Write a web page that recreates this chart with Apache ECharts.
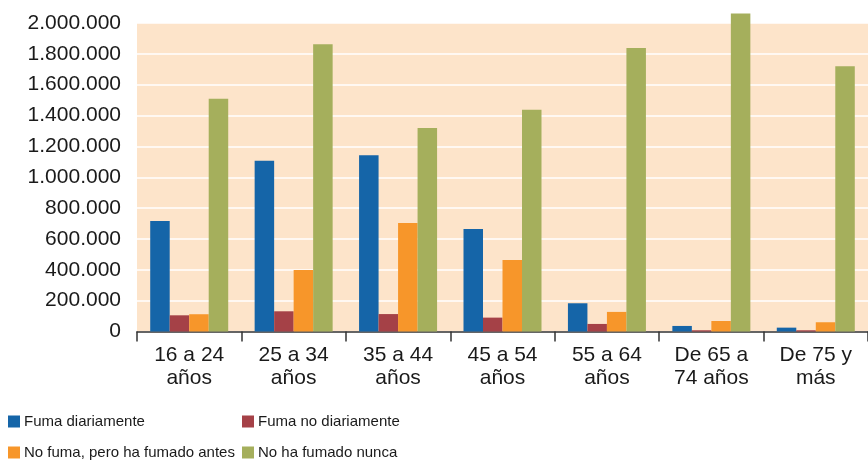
<!DOCTYPE html>
<html><head><meta charset="utf-8">
<script src="https://cdn.jsdelivr.net/npm/echarts@6/dist/echarts.min.js"></script>
<style>html,body{margin:0;padding:0;background:#fff}#c{width:868px;height:463px}</style>
</head><body><div id="c"></div>
<script>
const categories = ['16 a 24\naños','25 a 34\naños','35 a 44\naños','45 a 54\naños','55 a 64\naños','De 65 a\n74 años','De 75 y\nmás'];
const seriesNames = ['Fuma diariamente','Fuma no diariamente','No fuma, pero ha fumado antes','No ha fumado nunca'];
const fumaDiariamente = [717000, 1107000, 1142000, 665000, 183000, 36000, 25000];
const fumaNoDiariamente = [105000, 131000, 113000, 90000, 49000, 8000, 8000];
const exFumador = [112000, 399000, 704000, 464000, 127000, 68000, 60000];
const nuncaFumado = [1509000, 1862000, 1320000, 1437000, 1838000, 2062000, 1719000];
const yTicks = [0, 200000, 400000, 600000, 800000, 1000000, 1200000, 1400000, 1600000, 1800000, 2000000];
const colors = ['#1565a8','#a54147','#f7962a','#a5af5c'];

const chart = echarts.init(document.getElementById('c'));
const fmt = v => String(v).replace(/\B(?=(\d{3})+(?!\d))/g, '.');
const font = 'Liberation Sans, Arial, sans-serif';
const mk = (name, data, i) => ({
  name, type: 'bar', data, barWidth: 19.5, barGap: '0%', clip: false,
  itemStyle: { color: colors[i] }
});
const legendPos = [[8, 414], [242, 414], [8, 445], [242, 445]];
const legends = seriesNames.map((n, i) => ({
  left: legendPos[i][0], top: legendPos[i][1], padding: 0, itemGap: 0,
  itemWidth: 12, itemHeight: 12, icon: 'rect', data: [n],
  textStyle: { fontSize: 15, fontFamily: font, color: '#1a1a1a', padding: [0, 0, 0, -1] }
}));
chart.setOption({
  animation: false,
  grid: { left: 137, top: 23, width: 738, height: 308.5, backgroundColor: '#fde4ca', show: true, borderWidth: 0 },
  xAxis: {
    type: 'category', data: categories,
    axisLine: { lineStyle: { color: '#333', width: 1.5 } },
    axisTick: { show: true, length: 10, lineStyle: { color: '#333', width: 1.5 } },
    axisLabel: { color: '#1a1a1a', fontSize: 21, fontFamily: font, lineHeight: 23, margin: 12, interval: 0 }
  },
  yAxis: {
    type: 'value', min: yTicks[0], max: yTicks[yTicks.length-1], interval: 200000,
    axisLine: { show: false }, axisTick: { show: false },
    splitLine: { lineStyle: { color: '#ffffff', width: 1.5 } },
    axisLabel: { color: '#1a1a1a', fontSize: 21, fontFamily: font, margin: 16, formatter: fmt }
  },
  legend: legends,
  series: [
    mk(seriesNames[0], fumaDiariamente, 0),
    mk(seriesNames[1], fumaNoDiariamente, 1),
    mk(seriesNames[2], exFumador, 2),
    mk(seriesNames[3], nuncaFumado, 3)
  ]
});
</script></body></html>
